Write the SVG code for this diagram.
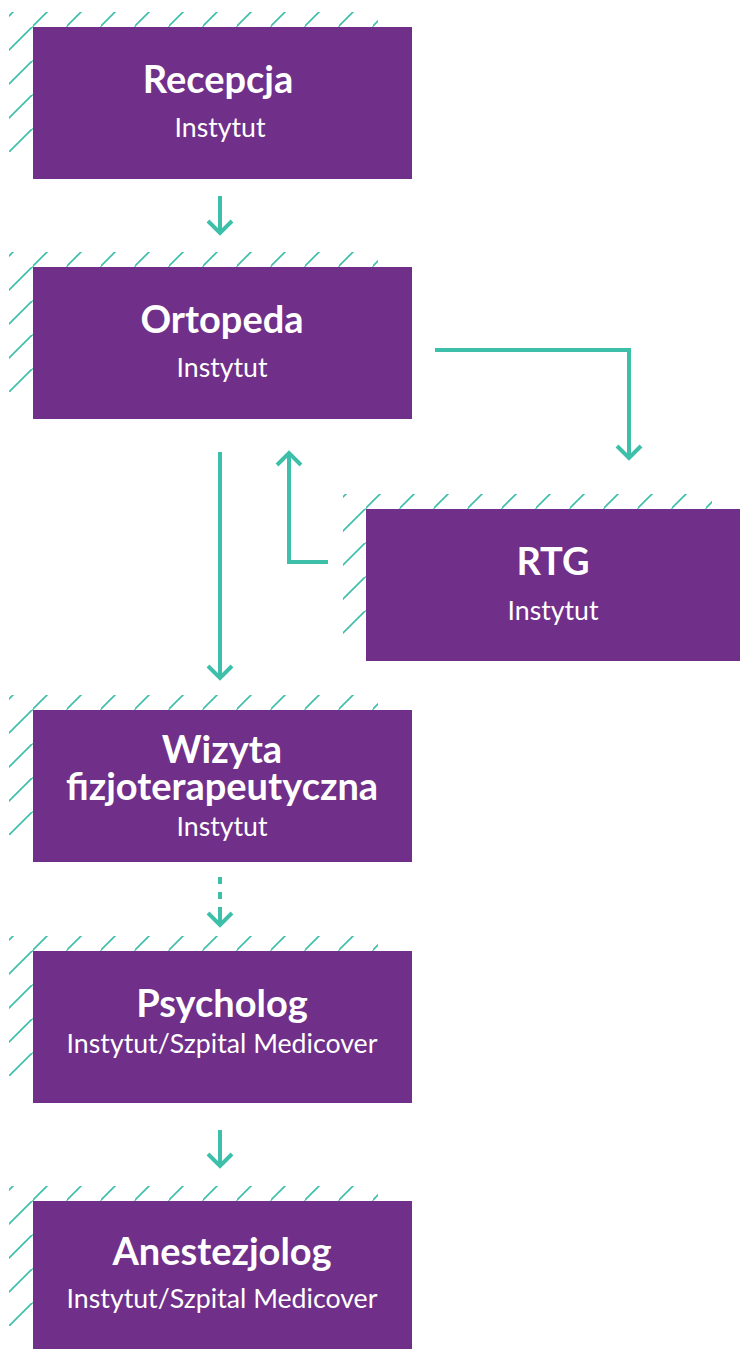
<svg xmlns="http://www.w3.org/2000/svg" width="740" height="1349" viewBox="0 0 740 1349">
<style>
.box{fill:#702f89}
.hatch{fill:url(#hp)}
.t{font-family:Lato,"Liberation Sans",sans-serif;font-weight:bold;font-size:38px;fill:#fff;text-anchor:middle}
.s{font-family:Lato,"Liberation Sans",sans-serif;font-size:26.7px;fill:#fff;text-anchor:middle}
.c{fill:none;stroke:#3dbfa9;stroke-width:4}
</style>
<defs>
<pattern id="hp" patternUnits="userSpaceOnUse" width="34" height="34">
<path d="M-2,35 L35,-2 M32,36 L36,32 M-2,1 L1,-2" stroke="#3dbfa9" stroke-width="1.6" fill="none"/>
</pattern>
</defs>
<rect width="740" height="1349" fill="#fff"/>
<g id="recepcja" transform="translate(33,27)">
<rect class="hatch" x="-24" y="-15" width="369" height="140"/>
<rect class="box" width="379" height="152"/>
<text class="t" x="185" y="66">Recepcja</text>
<text class="s" x="187" y="110">Instytut</text>
</g>
<g id="ortopeda" transform="translate(33,267)">
<rect class="hatch" x="-24" y="-15" width="369" height="140"/>
<rect class="box" width="379" height="152"/>
<text class="t" x="189" y="66">Ortopeda</text>
<text class="s" x="189" y="110">Instytut</text>
</g>
<g id="rtg" transform="translate(366,509)">
<rect class="hatch" x="-23" y="-15" width="369" height="140"/>
<rect class="box" width="374" height="152"/>
<text class="t" x="187" y="66">RTG</text>
<text class="s" x="187" y="111">Instytut</text>
</g>
<g id="wizyta" transform="translate(33,710)">
<rect class="hatch" x="-24" y="-15" width="369" height="140"/>
<rect class="box" width="379" height="152"/>
<text class="t" x="189" y="53">Wizyta</text>
<text class="t" x="189" y="90">fizjoterapeutyczna</text>
<text class="s" x="189" y="126">Instytut</text>
</g>
<g id="psycholog" transform="translate(33,951)">
<rect class="hatch" x="-24" y="-15" width="369" height="140"/>
<rect class="box" width="379" height="152"/>
<text class="t" x="189" y="66">Psycholog</text>
<text class="s" x="189" y="102">Instytut/Szpital Medicover</text>
</g>
<g id="anestezjolog" transform="translate(33,1201)">
<rect class="hatch" x="-24" y="-15" width="369" height="140"/>
<rect class="box" width="379" height="152"/>
<text class="t" x="189" y="64">Anestezjolog</text>
<text class="s" x="189" y="107">Instytut/Szpital Medicover</text>
</g>
<g id="connectors">
<path class="c" d="M220,196 V232 M208,221 L220,233 L232,221"/>
<path class="c" d="M435,350 H629 V457 M617,446 L629,458 L641,446"/>
<path class="c" d="M328,562 H289 V454 M277,465 L289,453 L301,465"/>
<path class="c" d="M220,452 V677 M208,666 L220,678 L232,666"/>
<path class="c" d="M220,877 V900" stroke-dasharray="7 8"/>
<path class="c" d="M220,907 V924 M208,913 L220,925 L232,913"/>
<path class="c" d="M220,1130 V1165 M208,1154 L220,1166 L232,1154"/>
</g>
</svg>
